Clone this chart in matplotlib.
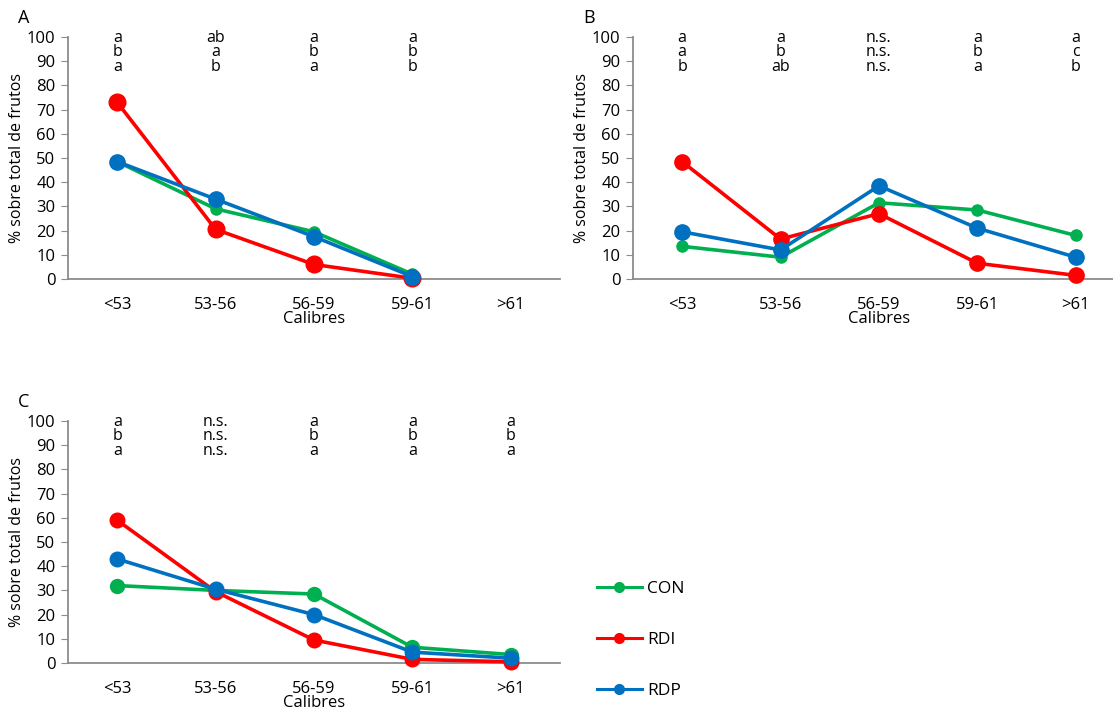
import numpy as np
import matplotlib
matplotlib.use("Agg")
import matplotlib.pyplot as plt
from matplotlib.lines import Line2D

plt.rcParams['font.family'] = ['Open Sans', 'DejaVu Sans']

calibres = ['<53', '53-56', '56-59', '59-61', '>61']
series = ['CON', 'RDI', 'RDP']
colors = {'CON': '#00B050', 'RDI': '#FF0000', 'RDP': '#0070C0'}

# panel A (no >61 values)
a_con = [48.5, 29.0, 19.5, 2.0]
a_rdi = [73.0, 20.5, 6.0, 0.3]
a_rdp = [48.5, 33.0, 17.5, 1.0]
a_letters = [['a', 'b', 'a'], ['ab', 'a', 'b'], ['a', 'b', 'a'], ['a', 'b', 'b']]

# panel B
b_con = [13.5, 9.0, 31.5, 28.5, 18.0]
b_rdi = [48.5, 16.5, 27.0, 6.5, 1.5]
b_rdp = [19.5, 12.0, 38.5, 21.0, 9.0]
b_letters = [['a', 'a', 'b'], ['a', 'b', 'ab'], ['n.s.', 'n.s.', 'n.s.'],
             ['a', 'b', 'a'], ['a', 'c', 'b']]

# panel C
c_con = [32.0, 30.0, 28.5, 6.5, 3.5]
c_rdi = [59.0, 29.5, 9.5, 1.5, 0.5]
c_rdp = [43.0, 30.5, 20.0, 4.5, 2.0]
c_letters = [['a', 'b', 'a'], ['n.s.', 'n.s.', 'n.s.'], ['a', 'b', 'a'],
             ['a', 'b', 'a'], ['a', 'b', 'a']]

fig = plt.figure(figsize=(11.13, 7.11), dpi=100)

W = 0.442
H = 0.3404
axA = fig.add_axes([0.0611, 0.6076, W, H])
axB = fig.add_axes([0.5687, 0.6076, W, H])
axC = fig.add_axes([0.0611, 0.0675, W, H])


def draw_panel(ax, label, data, sizes, letters):
    for name, vals, ms in zip(series, data, sizes):
        ax.plot(range(len(vals)), vals, color=colors[name], lw=2.6,
                marker='o', markersize=ms, zorder=3, clip_on=False)
    ax.set_xlim(-0.5, 4.5)
    ax.set_ylim(0, 100)
    ax.set_yticks(range(0, 101, 10))
    ax.set_xticks(range(len(calibres)))
    ax.set_xticklabels(calibres)
    for s in ['top', 'right']:
        ax.spines[s].set_visible(False)
    for s in ['left', 'bottom']:
        ax.spines[s].set_color('#8c8c8c')
        ax.spines[s].set_linewidth(1.3)
    ax.tick_params(axis='y', length=5, color='#8c8c8c', labelsize=12, pad=4)
    ax.tick_params(axis='x', length=0, labelsize=12, pad=13)
    ax.set_ylabel('% sobre total de frutos', fontsize=11.5, labelpad=1)
    ax.text(0.5, -0.165, 'Calibres', transform=ax.transAxes, ha='center',
            va='center', fontsize=12)
    ax.text(-0.102, 1.078, label, transform=ax.transAxes, ha='left',
            va='center', fontsize=13)
    for i, col in enumerate(letters):
        for j, t in enumerate(col):
            ax.text(i, 99.6 - 6.0 * j, t, ha='center', va='center',
                    fontsize=11.5)


draw_panel(axA, 'A', [a_con, a_rdi, a_rdp], [8, 12, 11], a_letters)
draw_panel(axB, 'B', [b_con, b_rdi, b_rdp], [8, 11, 11], b_letters)
draw_panel(axC, 'C', [c_con, c_rdi, c_rdp], [10, 10.5, 10.5], c_letters)

handles = [Line2D([0], [0], color=colors[n], lw=2.2, marker='o', markersize=7)
           for n in series]
fig.legend(handles, series, loc='upper left', bbox_to_anchor=(0.522, 0.205),
           frameon=False, fontsize=12.5, labelspacing=2.0, handlelength=2.6,
           handletextpad=0.3)

fig.savefig('out.png', dpi=100)
